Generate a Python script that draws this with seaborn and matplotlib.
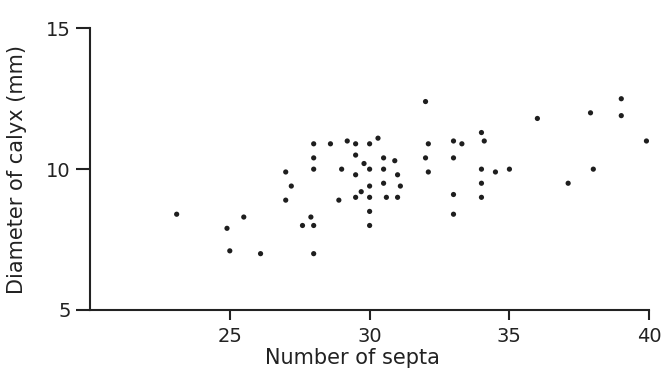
import pandas as pd
import matplotlib
matplotlib.use("Agg")
import matplotlib.pyplot as plt
import seaborn as sns

# Дані
septa = [32.0, 28.0, 28.6, 29.2, 29.5, 30.0, 30.3, 32.1, 33.0, 33.3, 34.0,
         28.0, 29.5, 29.8, 30.5, 30.9, 32.0, 33.0,
         27.0, 28.0, 29.0, 29.5, 30.0, 30.5, 31.0, 32.1,
         27.2, 30.0, 30.5, 31.1, 29.7,
         27.0, 28.9, 29.5, 30.0, 30.6, 31.0, 33.0, 34.0,
         27.9, 27.6, 28.0, 30.0, 30.0, 33.0, 28.0,
         23.1, 25.5, 24.9, 25.0, 26.1,
         39.0, 37.9, 39.0, 36.0, 34.1, 39.9, 34.0, 34.5, 35.0, 38.0, 34.0, 37.1]
calyx = [12.4, 10.9, 10.9, 11.0, 10.9, 10.9, 11.1, 10.9, 11.0, 10.9, 11.3,
         10.4, 10.5, 10.2, 10.4, 10.3, 10.4, 10.4,
         9.9, 10.0, 10.0, 9.8, 10.0, 10.0, 9.8, 9.9,
         9.4, 9.4, 9.5, 9.4, 9.2,
         8.9, 8.9, 9.0, 9.0, 9.0, 9.0, 9.1, 9.0,
         8.3, 8.0, 8.0, 8.5, 8.0, 8.4, 7.0,
         8.4, 8.3, 7.9, 7.1, 7.0,
         12.5, 12.0, 11.9, 11.8, 11.0, 11.0, 10.0, 9.9, 10.0, 10.0, 9.5, 9.5]

df = pd.DataFrame({"septa": septa, "calyx": calyx})

sns.set_theme(style="ticks")
plt.rcParams["font.family"] = ["DejaVu Sans"]

fig = plt.figure(figsize=(6.65, 3.89), dpi=100)
ax = fig.add_axes([0.1353, 0.2031, 0.8410, 0.7241])

sns.scatterplot(data=df, x="septa", y="calyx", ax=ax, s=14, color="#1e1e1e",
                edgecolor="none", linewidth=0)

ax.set_xlim(20, 40)
ax.set_ylim(5, 15)
ax.set_xticks([25, 30, 35, 40])
ax.set_yticks([5, 10, 15])
sns.despine(ax=ax)
for sp in ["left", "bottom"]:
    ax.spines[sp].set_linewidth(1.5)
    ax.spines[sp].set_color("#222222")
ax.tick_params(axis="x", length=7, width=1.5, color="#222222", labelsize=14,
               pad=5, labelcolor="#222222")
ax.tick_params(axis="y", length=10, width=1.5, color="#222222", labelsize=14,
               pad=4, labelcolor="#222222")

ax.set_xlabel("Number of septa", fontsize=15, color="#222222")
ax.set_ylabel("Diameter of calyx (mm)", fontsize=15, color="#222222")
ax.xaxis.set_label_coords(0.47, -0.135)
ax.yaxis.set_label_coords(-0.112, 0.5)

fig.savefig("out.png", dpi=100)
